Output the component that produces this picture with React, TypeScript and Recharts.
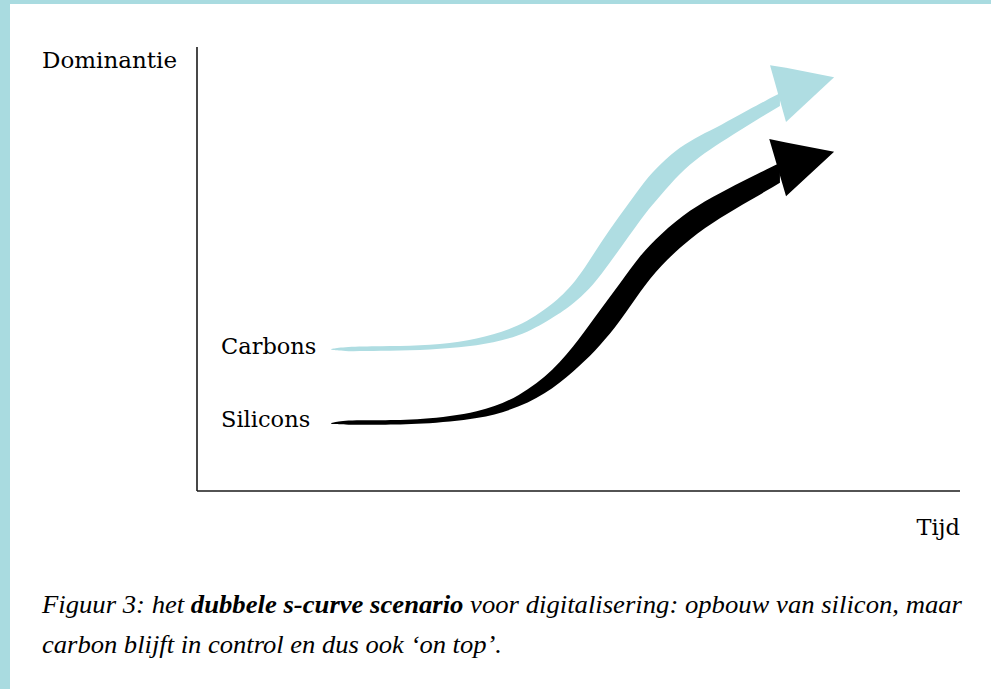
import React from "react";
import { ComposedChart, Area, XAxis, YAxis, ReferenceLine } from "recharts";

// Time (0-100) on the x axis, dominance (0-100) on the y axis.
// Each point: t = time, v = [lower edge, upper edge] of the growing band.
const carbonsBand = [
  { t: 17.6, v: [31.8, 32.0] },
  { t: 19.4, v: [31.4, 32.5] },
  { t: 24.0, v: [31.6, 32.6] },
  { t: 29.2, v: [31.7, 32.7] },
  { t: 34.5, v: [32.3, 33.5] },
  { t: 38.8, v: [33.3, 35.1] },
  { t: 43.3, v: [35.5, 37.9] },
  { t: 47.6, v: [40.0, 43.4] },
  { t: 49.8, v: [42.9, 47.6] },
  { t: 51.9, v: [46.3, 53.2] },
  { t: 54.1, v: [51.4, 59.0] },
  { t: 56.4, v: [56.9, 64.3] },
  { t: 58.7, v: [62.5, 69.9] },
  { t: 60.7, v: [66.5, 73.6] },
  { t: 63.3, v: [71.6, 77.5] },
  { t: 65.9, v: [75.4, 80.1] },
  { t: 68.6, v: [78.5, 82.3] },
  { t: 72.1, v: [82.3, 85.7] },
  { t: 76.4, v: [86.7, 89.6] },
];

const siliconsBand = [
  { t: 17.6, v: [15.1, 15.3] },
  { t: 19.4, v: [14.9, 16.0] },
  { t: 24.0, v: [14.9, 15.9] },
  { t: 29.2, v: [15.0, 16.0] },
  { t: 37.1, v: [16.2, 17.6] },
  { t: 42.3, v: [18.8, 21.3] },
  { t: 46.7, v: [23.0, 27.0] },
  { t: 50.2, v: [28.2, 34.4] },
  { t: 52.8, v: [32.7, 40.7] },
  { t: 55.4, v: [38.1, 46.6] },
  { t: 58.1, v: [45.0, 53.2] },
  { t: 60.7, v: [50.7, 57.8] },
  { t: 64.6, v: [56.9, 63.4] },
  { t: 68.6, v: [61.6, 67.2] },
  { t: 72.5, v: [65.5, 70.6] },
  { t: 76.4, v: [69.4, 73.9] },
];

// Arrowheads as triangular ranges
const carbonsHead = [
  { t: 75.1, v: [95.9, 95.9] },
  { t: 77.2, v: [83.1, 95.3] },
  { t: 83.5, v: [93.2, 93.2] },
];
const siliconsHead = [
  { t: 75.0, v: [79.3, 79.3] },
  { t: 77.2, v: [66.4, 78.5] },
  { t: 83.5, v: [76.4, 76.4] },
];

const yLabel = "Dominantie";
const xLabel = "Tijd";
const seriesNames = ["Carbons", "Silicons"];
const captionLine1 = ["Figuur 3: het ", "dubbele s-curve scenario", " voor digitalisering: opbouw van silicon, maar"];
const captionLine2 = "carbon blijft in control en dus ook \u2018on top\u2019.";

const BLUE = "#afdde2";
const BLACK = "#000000";
const LABEL_FONT = "'DejaVu Serif', serif";
const CAPTION_FONT = "'Liberation Serif', serif";

export default function App() {
  return (
    <div style={{ position: "absolute", left: 0, top: 0, width: 991, height: 689, background: "#ffffff", overflow: "hidden" }}>
      <div style={{ position: "absolute", left: 0, top: 0, width: 991, height: 4, background: "#a9dbe0" }} />
      <div style={{ position: "absolute", left: 0, top: 0, width: 10, height: 689, background: "#a9dbe0" }} />
      <div style={{ position: "absolute", left: 0, top: 0 }}>
        <ComposedChart width={991} height={689} margin={{ top: 47, right: 31, bottom: 198, left: 197 }}>
          <XAxis dataKey="t" type="number" domain={[0, 100]} allowDataOverflow hide />
          <YAxis type="number" domain={[0, 100]} allowDataOverflow hide />
          <ReferenceLine x={0} stroke="#1a1a1a" strokeWidth={1.6} ifOverflow="extendDomain" />
          <ReferenceLine y={0} stroke="#1a1a1a" strokeWidth={1.6} ifOverflow="extendDomain" />
          <Area data={carbonsBand} dataKey="v" type="basis" fill={BLUE} fillOpacity={1} stroke="none" isAnimationActive={false} />
          <Area data={carbonsHead} dataKey="v" type="linear" fill={BLUE} fillOpacity={1} stroke="none" isAnimationActive={false} />
          <Area data={siliconsBand} dataKey="v" type="basis" fill={BLACK} fillOpacity={1} stroke="none" isAnimationActive={false} />
          <Area data={siliconsHead} dataKey="v" type="linear" fill={BLACK} fillOpacity={1} stroke="none" isAnimationActive={false} />
        </ComposedChart>
      </div>
      <svg width={991} height={689} style={{ position: "absolute", left: 0, top: 0, pointerEvents: "none" }}>
        <text x={42} y={68} fontFamily={LABEL_FONT} fontSize={23} fill="#000">{yLabel}</text>
        <text x={221} y={354} fontFamily={LABEL_FONT} fontSize={22.5} fill="#000">{seriesNames[0]}</text>
        <text x={221} y={427} fontFamily={LABEL_FONT} fontSize={22.5} fill="#000">{seriesNames[1]}</text>
        <text x={960} y={535} textAnchor="end" fontFamily={LABEL_FONT} fontSize={22.5} fill="#000">{xLabel}</text>
        <text x={42} y={613} fontFamily={CAPTION_FONT} fontStyle="italic" fontSize={25} fill="#000" textLength={920} lengthAdjust="spacingAndGlyphs">
          <tspan>{captionLine1[0]}</tspan>
          <tspan fontWeight="bold">{captionLine1[1]}</tspan>
          <tspan>{captionLine1[2]}</tspan>
        </text>
        <text x={42} y={653} fontFamily={CAPTION_FONT} fontStyle="italic" fontSize={25} fill="#000" textLength={460} lengthAdjust="spacingAndGlyphs">
          {captionLine2}
        </text>
      </svg>
    </div>
  );
}
